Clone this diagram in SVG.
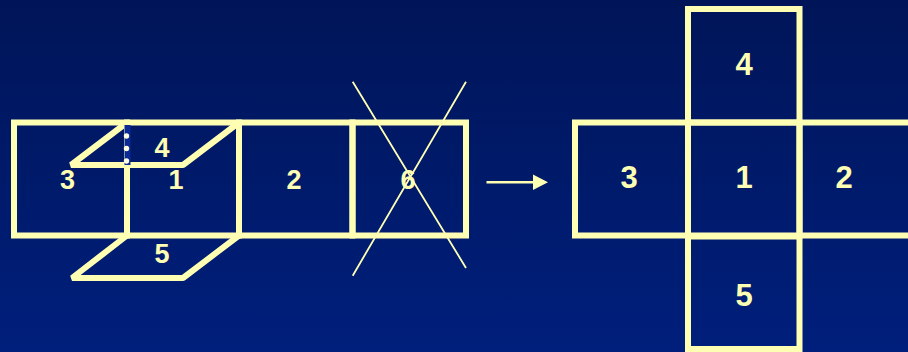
<svg xmlns="http://www.w3.org/2000/svg" width="908" height="352" viewBox="0 0 908 352">
<defs>
<linearGradient id="bg" x1="0" y1="0" x2="0" y2="1"><stop offset="0" stop-color="#001558"/><stop offset="1" stop-color="#001f7c"/></linearGradient>
</defs>
<style>
.b{fill:none;stroke:#ffffb4;stroke-width:6;stroke-linejoin:miter}
.p{fill:none;stroke:#ffffb4;stroke-width:6;stroke-linejoin:bevel}
.l{font-family:"Liberation Sans",Arial,sans-serif;font-weight:bold;fill:#ffffb4;text-anchor:middle}
.s{font-size:27px}.r{font-size:31px}
</style>
<rect width="908" height="352" fill="url(#bg)"/>
<g id="unfolded-net">
<g id="face-3-left"><rect class="b" x="14" y="122.500" width="113" height="113"/><text class="l s" x="67.500" y="189">3</text></g>
<g id="face-1-left"><rect class="b" x="127" y="122.500" width="112" height="113"/><text class="l s" x="176" y="189">1</text></g>
<g id="face-2-left"><rect class="b" x="239" y="122.500" width="113.500" height="113"/><text class="l s" x="294" y="189">2</text></g>
<g id="face-4-left"><path class="p" d="M127 122.500L71 165H183L239 122.500"/><rect x="124.500" y="125" width="6" height="40" fill="#0a2a96"/><circle cx="126.500" cy="136" r="2.700" fill="#ffffe0"/><circle cx="126.500" cy="148.500" r="2.700" fill="#ffffe0"/><circle cx="126.500" cy="161" r="2.700" fill="#ffffe0"/><text class="l s" x="162" y="157">4</text></g>
<g id="face-5-left"><path class="p" d="M127 235.500L72 278H183L239 235.500"/><text class="l s" x="162" y="263">5</text></g>
<g id="face-6-left"><rect class="b" x="352.500" y="122.500" width="113.500" height="113"/><text class="l s" x="408" y="189">6</text><path d="M352.700 81.700L466 268M466 81.700L352.700 275.700" fill="none" stroke="#ffffb4" stroke-width="1.800"/></g>
</g>
<g id="connectors"><path d="M486.500 182.300H535" fill="none" stroke="#ffffb4" stroke-width="2.400"/><path d="M533 174.500L548 182.300L533 190Z" fill="#ffffb4"/></g>
<g id="cross-net">
<g id="face-3-right"><rect class="b" x="575" y="122.500" width="113" height="113"/><text class="l r" x="629" y="188">3</text></g>
<g id="face-1-right"><rect class="b" x="688" y="122.500" width="111.500" height="113"/><text class="l r" x="744" y="188">1</text></g>
<g id="face-2-right"><rect class="b" x="799.500" y="122.500" width="114" height="113"/><text class="l r" x="844" y="188">2</text></g>
<g id="face-4-right"><rect class="b" x="688" y="9" width="111.500" height="113.500"/><text class="l r" x="744" y="75">4</text></g>
<g id="face-5-right"><rect class="b" x="688" y="236.500" width="111.500" height="112.500"/><text class="l r" x="744" y="306">5</text></g>
</g>
</svg>
